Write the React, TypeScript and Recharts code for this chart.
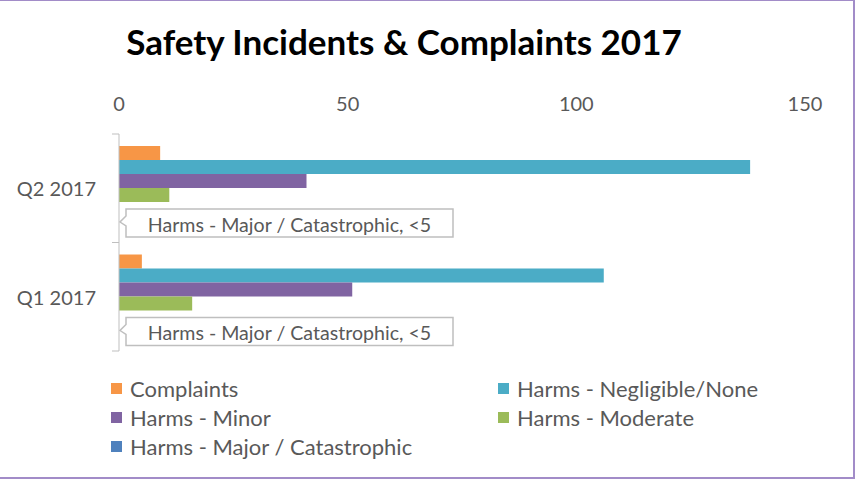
import { Bar, BarChart, Legend, XAxis, YAxis } from "recharts";

const quarters = ["Q2 2017", "Q1 2017"];
const complaints = [9, 5];
const negligible = [138, 106];
const minor = [41, 51];
const moderate = [11, 16];
const major = [0, 0];
const majorLabels = ["<5", "<5"];
// empty slot under the Major bar, room for its callout
const labelRoom = [0, 0];
const xTicks = [0, 50, 100, 150];

const series = [
  { key: "complaints", name: "Complaints", color: "#F79646" },
  { key: "negligible", name: "Harms - Negligible/None", color: "#4BACC6" },
  { key: "minor", name: "Harms - Minor", color: "#8064A2" },
  { key: "moderate", name: "Harms - Moderate", color: "#9BBB59" },
  { key: "major", name: "Harms - Major / Catastrophic", color: "#4F81BD" },
];

const data = quarters.map((q, i) => ({
  quarter: q,
  complaints: complaints[i],
  negligible: negligible[i],
  minor: minor[i],
  moderate: moderate[i],
  major: major[i],
  majorLabel: majorLabels[i],
  labelRoom: labelRoom[i],
}));

const W = 855;
const H = 479;
const MARGIN = { top: 104, right: 50, bottom: 128, left: 19 };
const X_AXIS_H = 30;
const Y_AXIS_W = 100;
const TICK_GAP = 23;
const GREY = "#595959";
const LINE = "#BFBFBF";
const FONT = "Lato, 'Open Sans', sans-serif";

const plotH = H - MARGIN.top - MARGIN.bottom - X_AXIS_H;
const halfBand = plotH / quarters.length / 2;

function QuarterTick(props: any) {
  const { x, y, payload } = props;
  const axisX = x + TICK_GAP;
  return (
    <g>
      <line x1={axisX - 7} x2={axisX} y1={y - halfBand} y2={y - halfBand} stroke={LINE} />
      <line x1={axisX - 7} x2={axisX} y1={y + halfBand} y2={y + halfBand} stroke={LINE} />
      <text x={x} y={y} textAnchor="end" dominantBaseline="central" fill={GREY} fontSize={20} fontFamily={FONT}>
        {payload.value}
      </text>
    </g>
  );
}

// bar (usually zero length) plus the Excel-style callout box under it
function MajorBar(props: any) {
  const { x, y, width, height, fill, payload } = props;
  const bx = x + 7;
  const by = y + height - 7;
  const bw = 327;
  const bh = 28;
  const d = `M${bx},${by} H${bx + bw} V${by + bh} H${bx} V${by + 17} L${x + 1},${by + 13} L${bx},${by + 7} Z`;
  return (
    <g>
      {width > 0 && <rect x={x} y={y} width={width} height={height} fill={fill} />}
      <path d={d} fill="#fff" stroke={LINE} strokeWidth={1.5} />
      <text
        x={bx + bw / 2}
        y={by + bh / 2 + 1}
        textAnchor="middle"
        dominantBaseline="central"
        fill={GREY}
        fontSize={19.6}
        fontFamily={FONT}
      >
        {`Harms - Major / Catastrophic, ${payload.majorLabel}`}
      </text>
    </g>
  );
}

function LegendBox() {
  return (
    <div
      style={{
        display: "grid",
        gridTemplateColumns: "387px 330px",
        fontFamily: FONT,
        fontSize: 22,
        color: GREY,
      }}
    >
      {series.map((s) => (
        <div key={s.key} style={{ display: "flex", alignItems: "center", height: 29 }}>
          <span style={{ width: 11, height: 11, background: s.color, marginRight: 8 }} />
          <span>{s.name}</span>
        </div>
      ))}
    </div>
  );
}

export default function App() {
  return (
    <div style={{ position: "absolute", left: 0, top: 0, width: W, height: H, background: "#fff", fontFamily: FONT }}>
      <div
        style={{
          position: "absolute",
          left: 0,
          top: 20,
          width: 808,
          textAlign: "center",
          fontSize: 35,
          fontWeight: 700,
          color: "#000",
        }}
      >
        Safety Incidents &amp; Complaints 2017
      </div>
      <BarChart width={W} height={H} data={data} layout="vertical" margin={MARGIN} barGap={0} barSize={14}>
        <XAxis
          type="number"
          orientation="top"
          domain={[0, 150]}
          ticks={xTicks}
          height={X_AXIS_H}
          axisLine={false}
          tickLine={false}
          tickSize={0}
          tickMargin={TICK_GAP}
          tick={{ fill: GREY, fontSize: 20, fontFamily: FONT }}
        />
        <YAxis
          type="category"
          dataKey="quarter"
          width={Y_AXIS_W}
          axisLine={{ stroke: LINE }}
          tickLine={false}
          tickSize={0}
          tickMargin={TICK_GAP}
          tick={<QuarterTick />}
        />
        {series.map((s) =>
          s.key === "major" ? (
            <Bar
              key={s.key}
              dataKey={s.key}
              name={s.name}
              fill={s.color}
              shape={<MajorBar />}
              isAnimationActive={false}
            />
          ) : (
            <Bar key={s.key} dataKey={s.key} name={s.name} fill={s.color} isAnimationActive={false} />
          )
        )}
        <Bar dataKey="labelRoom" legendType="none" fill="transparent" isAnimationActive={false} />
        <Legend
          layout="vertical"
          verticalAlign="middle"
          align="center"
          content={<LegendBox />}
          wrapperStyle={{ left: 111, top: 374, width: 730 }}
        />
      </BarChart>
      <div
        style={{
          position: "absolute",
          left: 0,
          top: 0,
          width: W - 2,
          height: H - 3,
          borderTop: "1px solid #A28CC8",
          borderRight: "2px solid #A28CC8",
          borderBottom: "2px solid #A28CC8",
          pointerEvents: "none",
        }}
      />
    </div>
  );
}
